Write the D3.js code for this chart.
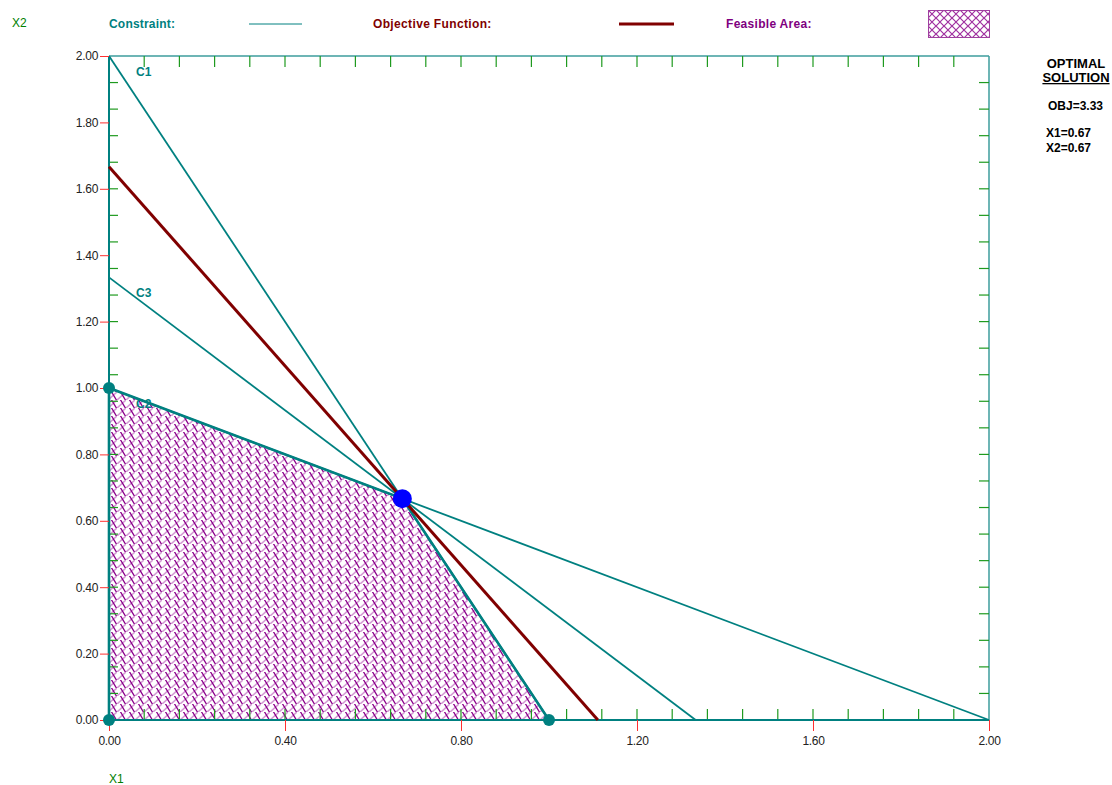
<!DOCTYPE html>
<html><head><meta charset="utf-8">
<script src="https://cdn.jsdelivr.net/npm/d3@7"></script>
<style>
body{margin:0;background:#fff;}
svg{display:block;}
</style></head>
<body>
<svg id="chart" width="1112" height="785"></svg>
<script>
// ---- data ----
const constraintNames = ["C1", "C2", "C3"];
const constraintX1Intercepts = [1.0, 2.0, 1.3333];
const constraintX2Intercepts = [2.0, 1.0, 1.3333];
const objectiveIntercepts = [1.1111, 1.6667]; // [x1, x2]
const feasibleX1 = [0, 1.0, 0.6667, 0];
const feasibleX2 = [0, 0, 0.6667, 1.0];
const cornerX1 = [0, 1.0, 0];
const cornerX2 = [0, 0, 1.0];
const optimum = [0.6667, 0.6667];
const xTickLabels = ["0.00", "0.40", "0.80", "1.20", "1.60", "2.00"];
const yTickLabels = ["0.00", "0.20", "0.40", "0.60", "0.80", "1.00", "1.20", "1.40", "1.60", "1.80", "2.00"];
const minorStep = 0.08;
const solutionLines = ["OBJ=3.33", "X1=0.67", "X2=0.67"];

// ---- layout ----
const svg = d3.select("#chart");
const x = d3.scaleLinear().domain([0, 2]).range([109, 989]);
const y = d3.scaleLinear().domain([0, 2]).range([720, 56]);
const TEAL = "#008080", DRED = "#800000", PURP = "#800080", GREEN = "#008000";
const tickFont = "'Liberation Sans', Arial, sans-serif";

// patterns
const defs = svg.append("defs");
const pat = defs.append("pattern").attr("id", "hatch").attr("patternUnits", "userSpaceOnUse")
  .attr("width", 9).attr("height", 8);
pat.append("rect").attr("width", 9).attr("height", 8).attr("fill", "#fff");
pat.append("path").attr("d", "M9,0 L0,8").attr("stroke", "#d49ad4").attr("stroke-width", 1.6);
pat.append("path").attr("d", "M3,-1 L9,9 M-6,-1 L0,9 M12,-1 L18,9").attr("stroke", "#8b008b").attr("stroke-width", 1.3);
const pat2 = defs.append("pattern").attr("id", "hatch2").attr("patternUnits", "userSpaceOnUse")
  .attr("width", 8).attr("height", 8).attr("x", 928).attr("y", 10);
pat2.append("rect").attr("width", 8).attr("height", 8).attr("fill", "#fff");
pat2.append("path").attr("d", "M0,0 L8,8 M8,0 L0,8").attr("stroke", "#a030a0").attr("stroke-width", 1.2);

// feasible region
const feas = feasibleX1.map((v, i) => [x(v), y(feasibleX2[i])]);
svg.append("polygon").attr("points", feas.map(p => p.join(",")).join(" "))
  .attr("fill", "url(#hatch)");

// frame (top/right)
svg.append("line").attr("x1", x(0)).attr("x2", x(2)).attr("y1", y(2)).attr("y2", y(2))
  .attr("stroke", "#3c9c9c").attr("stroke-width", 1.5);
svg.append("line").attr("x1", x(2)).attr("x2", x(2)).attr("y1", y(2)).attr("y2", y(0))
  .attr("stroke", "#3c9c9c").attr("stroke-width", 1.5);

// minor ticks
const minors = d3.range(0, 25).map(i => +(i * minorStep).toFixed(2)).filter(v => v > 0 && v < 2);
const g = svg.append("g").attr("stroke", "#1f9a1f").attr("stroke-width", 1.2);
minors.forEach(v => {
  g.append("line").attr("x1", x(v)).attr("x2", x(v)).attr("y1", y(0)).attr("y2", y(0) - 11);
  g.append("line").attr("x1", x(v)).attr("x2", x(v)).attr("y1", y(2)).attr("y2", y(2) + 11);
  g.append("line").attr("y1", y(v)).attr("y2", y(v)).attr("x1", x(0)).attr("x2", x(0) + 9);
  g.append("line").attr("y1", y(v)).attr("y2", y(v)).attr("x1", x(2)).attr("x2", x(2) - 10);
});

// constraint lines
constraintNames.forEach((n, i) => {
  svg.append("line").attr("x1", x(0)).attr("y1", y(constraintX2Intercepts[i]))
    .attr("x2", x(constraintX1Intercepts[i])).attr("y2", y(0))
    .attr("stroke", TEAL).attr("stroke-width", 1.8);
});
// feasible boundary (thicker)
svg.append("polyline").attr("points", feas.slice(1).concat([feas[0]]).map(p => p.join(",")).join(" "))
  .attr("fill", "none").attr("stroke", TEAL).attr("stroke-width", 2.6);
svg.append("line").attr("x1", x(0)).attr("x2", x(2)).attr("y1", y(0)).attr("y2", y(0))
  .attr("stroke", TEAL).attr("stroke-width", 2);
svg.append("line").attr("x1", x(0)).attr("x2", x(0)).attr("y1", y(0)).attr("y2", y(2))
  .attr("stroke", TEAL).attr("stroke-width", 2);

// major ticks & labels
const xAxis = d3.axisBottom(x).tickValues(xTickLabels.map(Number)).tickFormat((d, i) => xTickLabels[i])
  .tickSize(11).tickPadding(5);
const xa = svg.append("g").attr("transform", `translate(0,${y(0)})`).call(xAxis);
xa.select(".domain").remove();
xa.selectAll(".tick line").attr("stroke", "#ff3030");
xa.selectAll(".tick text").attr("fill", "#222").style("font-family", tickFont).style("font-size", "12px")
  .attr("letter-spacing", "-0.3");
const yAxis = d3.axisLeft(y).tickValues(yTickLabels.map(Number)).tickFormat((d, i) => yTickLabels[i])
  .tickSize(9).tickPadding(2);
const ya = svg.append("g").attr("transform", `translate(${x(0)},0)`).call(yAxis);
ya.select(".domain").remove();
ya.selectAll(".tick line").attr("stroke", "#ff3030");
ya.selectAll(".tick text").attr("fill", "#222").style("font-family", tickFont).style("font-size", "12px")
  .attr("letter-spacing", "-0.3");

// objective line
svg.append("line").attr("x1", x(0)).attr("y1", y(objectiveIntercepts[1]))
  .attr("x2", x(objectiveIntercepts[0])).attr("y2", y(0))
  .attr("stroke", DRED).attr("stroke-width", 3);

// corner dots
cornerX1.forEach((v, i) => {
  svg.append("circle").attr("cx", x(v)).attr("cy", y(cornerX2[i])).attr("r", 6).attr("fill", TEAL);
});
svg.append("circle").attr("cx", x(optimum[0])).attr("cy", y(optimum[1])).attr("r", 9.5).attr("fill", "#0000ff");

// constraint labels
constraintNames.forEach((n, i) => {
  svg.append("text").attr("x", x(0) + 27).attr("y", y(constraintX2Intercepts[i]) + 20)
    .text(n).attr("fill", TEAL).style("font-family", tickFont).style("font-size", "12px")
    .style("font-weight", "bold");
});

// legend
const lf = "'Liberation Sans', Arial, sans-serif";
svg.append("text").attr("x", 12).attr("y", 27).text("X2").attr("fill", GREEN)
  .style("font-family", lf).style("font-size", "12px");
svg.append("text").attr("x", 109).attr("y", 779).attr("dy", "0.35em").text("X1").attr("fill", GREEN)
  .style("font-family", lf).style("font-size", "12px");
svg.append("text").attr("x", 109).attr("y", 28).text("Constraint:").attr("fill", TEAL)
  .style("font-family", lf).style("font-size", "12px").style("font-weight", "bold").attr("letter-spacing", "0.2");
svg.append("line").attr("x1", 249).attr("x2", 302).attr("y1", 24).attr("y2", 24).attr("stroke", TEAL).attr("stroke-width", 1);
svg.append("text").attr("x", 373).attr("y", 28).text("Objective Function:").attr("fill", DRED)
  .style("font-family", lf).style("font-size", "12px").style("font-weight", "bold").attr("letter-spacing", "0.35");
svg.append("line").attr("x1", 619).attr("x2", 674).attr("y1", 24).attr("y2", 24).attr("stroke", DRED).attr("stroke-width", 3);
svg.append("text").attr("x", 726).attr("y", 28).text("Feasible Area:").attr("fill", PURP)
  .style("font-family", lf).style("font-size", "12px").style("font-weight", "bold").attr("letter-spacing", "0.3");
svg.append("rect").attr("x", 928.5).attr("y", 10.5).attr("width", 61).attr("height", 27)
  .attr("fill", "url(#hatch2)").attr("stroke", "#a040a0").attr("stroke-width", 1);

// optimal solution text
const rf = "'Liberation Sans Narrow', 'Liberation Sans', Arial, sans-serif";
svg.append("text").attr("x", 1076).attr("y", 68).attr("text-anchor", "middle").text("OPTIMAL")
  .style("font-family", rf).style("font-size", "13px").style("font-weight", "bold").attr("fill", "#000");
svg.append("text").attr("x", 1076).attr("y", 82).attr("text-anchor", "middle").text("SOLUTION")
  .style("font-family", rf).style("font-size", "13px").style("font-weight", "bold").attr("fill", "#000")
  .style("text-decoration", "underline");
[[1048, 110], [1046, 137], [1046, 152]].forEach((p, i) => {
  svg.append("text").attr("x", p[0]).attr("y", p[1]).text(solutionLines[i])
    .style("font-family", rf).style("font-size", "12px").style("font-weight", "bold").attr("fill", "#000");
});
</script>
</body></html>
